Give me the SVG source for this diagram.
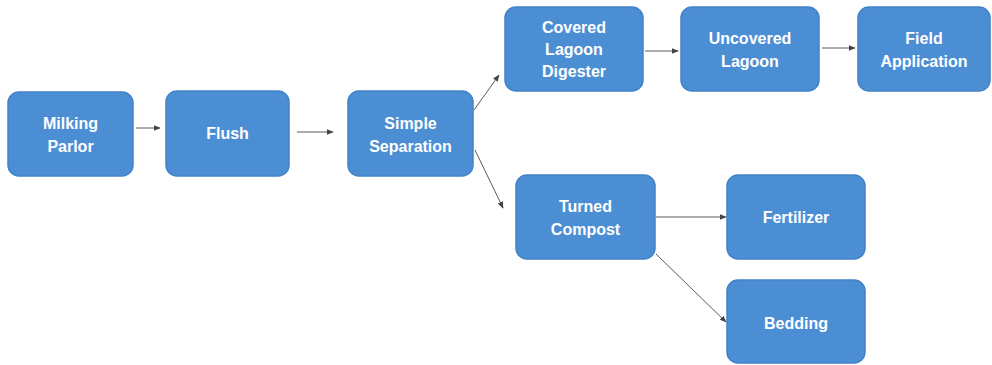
<svg xmlns="http://www.w3.org/2000/svg" width="992" height="365" viewBox="0 0 992 365">
  <style>
    .box { fill: #4c8ed4; stroke: #4282c8; stroke-width: 1.5; }
    .lbl { font-family: "Liberation Sans", Arial, sans-serif; font-weight: bold; font-size: 16px; fill: #ffffff; text-anchor: middle; }
    .edge { stroke: #5a5a5a; stroke-width: 1; fill: none; marker-end: url(#arrow); }
  </style>
  <defs>
    <marker id="arrow" viewBox="0 0 10 10" refX="9" refY="5" markerWidth="7" markerHeight="7" orient="auto" markerUnits="userSpaceOnUse">
      <path d="M0,1 L10,5 L0,9 z" fill="#444"/>
    </marker>
  </defs>
  <rect width="992" height="365" fill="#ffffff"/>

  <g id="connectors">
    <line class="edge" x1="136" y1="128" x2="160" y2="128"/>
    <line class="edge" x1="297" y1="132" x2="333" y2="132"/>
    <line class="edge" x1="474" y1="110" x2="499" y2="75"/>
    <line class="edge" x1="475" y1="150" x2="503" y2="208"/>
    <line class="edge" x1="645" y1="51" x2="678" y2="51"/>
    <line class="edge" x1="822" y1="48" x2="855" y2="48"/>
    <line class="edge" x1="656" y1="217" x2="726" y2="217"/>
    <line class="edge" x1="656" y1="254" x2="726" y2="322"/>
  </g>

  <g id="milking-parlor">
    <rect class="box" x="8" y="92" width="125" height="84" rx="11"/>
    <text class="lbl" x="70.5" y="129">Milking</text>
    <text class="lbl" x="70.5" y="152">Parlor</text>
  </g>
  <g id="flush">
    <rect class="box" x="166" y="91" width="123" height="85" rx="11"/>
    <text class="lbl" x="227.5" y="139">Flush</text>
  </g>
  <g id="simple-separation">
    <rect class="box" x="348" y="91" width="125" height="85" rx="11"/>
    <text class="lbl" x="410.5" y="129">Simple</text>
    <text class="lbl" x="410.5" y="152">Separation</text>
  </g>
  <g id="covered-lagoon-digester">
    <rect class="box" x="505" y="7" width="138" height="84" rx="11"/>
    <text class="lbl" x="574" y="33">Covered</text>
    <text class="lbl" x="574" y="55">Lagoon</text>
    <text class="lbl" x="574" y="77">Digester</text>
  </g>
  <g id="uncovered-lagoon">
    <rect class="box" x="681" y="7" width="138" height="84" rx="11"/>
    <text class="lbl" x="750" y="44">Uncovered</text>
    <text class="lbl" x="750" y="67">Lagoon</text>
  </g>
  <g id="field-application">
    <rect class="box" x="858" y="7" width="132" height="84" rx="11"/>
    <text class="lbl" x="924" y="44">Field</text>
    <text class="lbl" x="924" y="67">Application</text>
  </g>
  <g id="turned-compost">
    <rect class="box" x="516" y="175" width="139" height="84" rx="11"/>
    <text class="lbl" x="585.5" y="212">Turned</text>
    <text class="lbl" x="585.5" y="235">Compost</text>
  </g>
  <g id="fertilizer">
    <rect class="box" x="727" y="175" width="138" height="84" rx="11"/>
    <text class="lbl" x="796" y="223">Fertilizer</text>
  </g>
  <g id="bedding">
    <rect class="box" x="727" y="280" width="138" height="83" rx="11"/>
    <text class="lbl" x="796" y="329">Bedding</text>
  </g>
</svg>
